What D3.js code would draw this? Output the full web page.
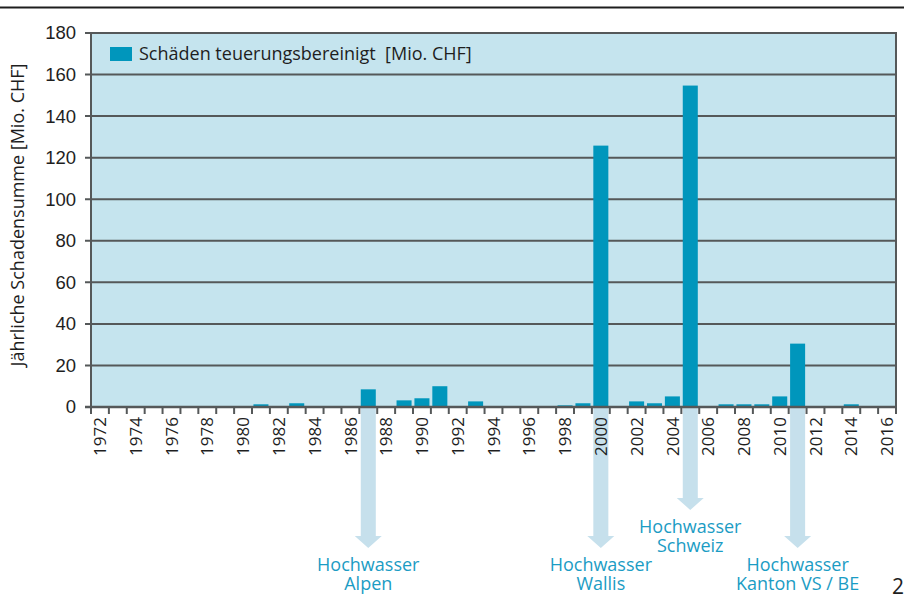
<!DOCTYPE html>
<html>
<head>
<meta charset="utf-8">
<script src="https://cdn.jsdelivr.net/npm/d3@7"></script>
<style>
  body { margin: 0; background: #fff; }
  svg { display: block; font-family: "Open Sans", sans-serif; }
</style>
</head>
<body>
<script>
// Data
const years = d3.range(1972, 2017);
const damageYears = [1981, 1983, 1987, 1989, 1990, 1991, 1993, 1998, 1999, 2000,
                     2002, 2003, 2004, 2005, 2007, 2008, 2009, 2010, 2011, 2014];
const damageValues = [1.3, 1.8, 8.5, 3.2, 4.2, 10, 2.7, 0.8, 1.8, 125.8,
                      2.7, 1.8, 5.1, 154.7, 1.3, 1.3, 1.3, 5.1, 30.5, 1.3];
const yTicks = [0, 20, 40, 60, 80, 100, 120, 140, 160, 180];
const legendLabel = "Schäden teuerungsbereinigt  [Mio. CHF]";
const yTitle = "Jährliche Schadensumme [Mio. CHF]";
const eventYears = [1987, 2000, 2005, 2011];
const eventLabels = [["Hochwasser", "Alpen"], ["Hochwasser", "Wallis"],
                     ["Hochwasser", "Schweiz"], ["Hochwasser", "Kanton VS / BE"]];

const data = damageYears.map((y, i) => ({year: y, value: damageValues[i]}));

// Dimensions
const W = 904, H = 596;
const margin = {top: 33, right: 8, bottom: 189, left: 91};
const width = W - margin.left - margin.right,
      height = H - margin.top - margin.bottom;

const svg = d3.select("body")
  .append("svg")
    .attr("width", W)
    .attr("height", H);

// page rule at the top
svg.append("line")
    .attr("x1", 0).attr("x2", W)
    .attr("y1", 7.5).attr("y2", 7.5)
    .attr("stroke", "#1e1e1e")
    .attr("stroke-width", 2);

const g = svg.append("g")
    .attr("transform", "translate(" + margin.left + "," + margin.top + ")");

// Scales
const x = d3.scaleBand()
    .domain(years)
    .range([0, width])
    .padding(0);
const y = d3.scaleLinear()
    .domain([0, 180])
    .range([height, 0]);

const bw = x.bandwidth();
const barW = bw * 0.84;

// Event arrows (behind everything below the axis)
const arrowColor = "#c6e0ec";
const labelColor = "#1b9cc4";
const arrowTip = {2005: 477};   // raised arrow, relative to plot top
const defaultTip = 515;
eventYears.forEach(function(yr, i) {
  const cx = x(yr) + bw / 2;
  const tip = arrowTip[yr] || defaultTip;
  const headH = 12, headW = 27;
  g.append("rect")
      .attr("x", cx - barW / 2)
      .attr("y", height)
      .attr("width", barW)
      .attr("height", tip - headH - height + 1)
      .attr("fill", arrowColor);
  g.append("path")
      .attr("d", "M" + (cx - headW / 2) + "," + (tip - headH) +
                 "L" + (cx + headW / 2) + "," + (tip - headH) +
                 "L" + cx + "," + tip + "Z")
      .attr("fill", arrowColor);
  eventLabels[i].forEach(function(line, j) {
    g.append("text")
        .attr("x", cx)
        .attr("y", tip + 23 + j * 19)
        .attr("text-anchor", "middle")
        .attr("fill", labelColor)
        .style("font-size", "18px")
        .text(line);
  });
});

// Plot background
g.append("rect")
    .attr("width", width)
    .attr("height", height)
    .attr("fill", "#c5e4ee");

// Gridlines + y ticks
const gridColor = "#555859";
g.selectAll(".grid")
    .data(yTicks)
    .enter()
    .append("line")
      .attr("x1", -6)
      .attr("x2", width)
      .attr("y1", d => y(d))
      .attr("y2", d => y(d))
      .attr("stroke", gridColor)
      .attr("stroke-width", 2);

const yAxis = g.append("g")
    .call(d3.axisLeft(y).tickValues(yTicks).tickSize(0).tickPadding(15));
yAxis.select(".domain").remove();
yAxis.selectAll("text")
    .style("font-size", "18.5px")
    .attr("fill", "#1e1e1e");

// Bars
g.selectAll(".bar")
    .data(data)
    .enter()
    .append("rect")
      .attr("x", d => x(d.year) + (bw - barW) / 2)
      .attr("y", d => y(d.value))
      .attr("width", barW)
      .attr("height", d => y(0) - y(d.value))
      .attr("fill", "#0096bc");

// Left / right frame
g.append("line")
    .attr("x1", 0).attr("x2", 0)
    .attr("y1", -1).attr("y2", height + 1)
    .attr("stroke", gridColor).attr("stroke-width", 2);
g.append("line")
    .attr("x1", width).attr("x2", width)
    .attr("y1", -1).attr("y2", height + 7)
    .attr("stroke", gridColor).attr("stroke-width", 2);

// X axis: ticks at band edges, labels on even years
const edges = years.map(d => x(d)).concat([width]);
g.selectAll(".xtick")
    .data(edges)
    .enter()
    .append("line")
      .attr("x1", d => d).attr("x2", d => d)
      .attr("y1", height).attr("y2", height + 7)
      .attr("stroke", gridColor)
      .attr("stroke-width", 2);
g.append("line")
    .attr("x1", -6).attr("x2", width + 1)
    .attr("y1", height).attr("y2", height)
    .attr("stroke", gridColor)
    .attr("stroke-width", 2.5);

g.selectAll(".xlabel")
    .data(years.filter(d => d % 2 === 0))
    .enter()
    .append("text")
      .attr("transform", d => "translate(" + (x(d) + bw / 2) + "," + (height + 10) + ") rotate(-90)")
      .attr("dy", "0.36em")
      .attr("text-anchor", "end")
      .attr("fill", "#1e1e1e")
      .style("font-size", "17px")
      .text(d => d);

// Y axis title
svg.append("text")
    .attr("transform", "translate(24," + (margin.top + 182) + ") rotate(-90)")
    .attr("text-anchor", "middle")
    .attr("fill", "#1e1e1e")
    .style("font-size", "18px")
    .text(yTitle);

// Legend
const legend = g.append("g")
    .attr("transform", "translate(19,14)");
legend.append("rect")
    .attr("width", 22)
    .attr("height", 14)
    .attr("fill", "#0096bc");
legend.append("text")
    .attr("x", 29)
    .attr("y", 7)
    .attr("dy", "0.36em")
    .attr("fill", "#1e1e1e")
    .style("font-size", "18px")
    .style("white-space", "pre")
    .text(legendLabel);

// page number, cut at the edge
svg.append("text")
    .attr("x", 892)
    .attr("y", 594)
    .attr("fill", "#1e1e1e")
    .style("font-size", "21px")
    .text("2");
</script>
</body>
</html>
